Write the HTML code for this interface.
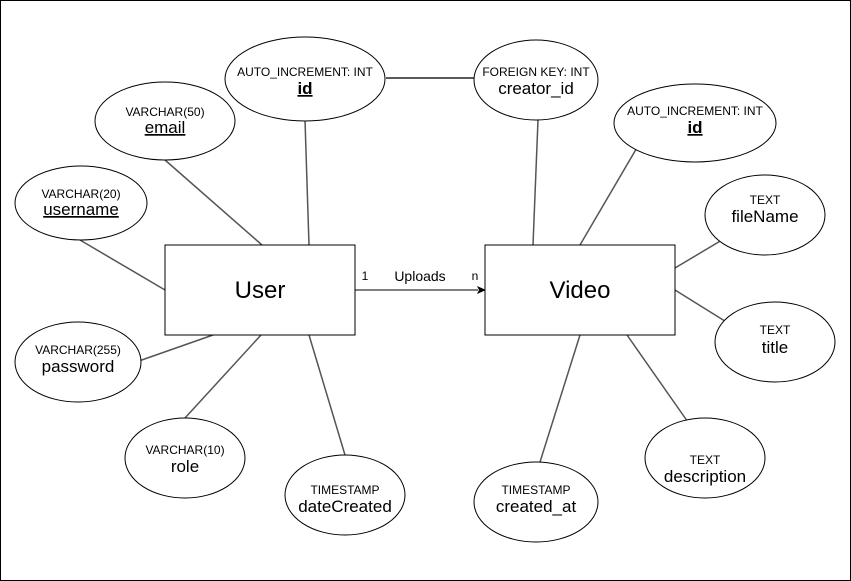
<!DOCTYPE html>
<html><head><meta charset="utf-8"><style>
html,body{margin:0;padding:0;background:#fff}
svg{display:block}
text{font-family:"Liberation Sans",Arial,sans-serif;fill:#000}
</style></head><body>
<svg width="851" height="581" viewBox="0 0 851 581" xmlns="http://www.w3.org/2000/svg">
<rect x="0.5" y="0.5" width="850" height="580" fill="#fff" stroke="#000"/>
<g stroke="#555" stroke-width="1.5" fill="none">
<line x1="305" y1="120" x2="309" y2="245"/>
<line x1="165" y1="160" x2="262" y2="245"/>
<line x1="80" y1="240" x2="165" y2="290"/>
<line x1="136" y1="362" x2="213" y2="335"/>
<line x1="185" y1="418" x2="261" y2="335"/>
<line x1="345" y1="455" x2="309" y2="335"/>
<line x1="386" y1="78" x2="474" y2="78" stroke="#222"/>
<line x1="538" y1="120" x2="533" y2="245"/>
<line x1="638" y1="146" x2="580" y2="245"/>
<line x1="722" y1="240" x2="675" y2="268"/>
<line x1="728" y1="323" x2="675" y2="290"/>
<line x1="690" y1="425" x2="627" y2="335"/>
<line x1="540" y1="462" x2="580" y2="335"/>
</g>
<line x1="355" y1="290" x2="478" y2="290" stroke="#000" stroke-width="1"/>
<polygon points="486,290 477,286 479,290 477,294" fill="#000"/>
<g fill="#fff" stroke="#000" stroke-width="1">
<rect x="165" y="245" width="190" height="90"/>
<rect x="485" y="245" width="190" height="90"/>
<ellipse cx="305" cy="79" rx="80" ry="42"/>
<ellipse cx="536" cy="80" rx="62" ry="40"/>
<ellipse cx="165" cy="121" rx="70" ry="39"/>
<ellipse cx="81" cy="203" rx="66" ry="37"/>
<ellipse cx="695" cy="123" rx="81" ry="39"/>
<ellipse cx="765" cy="215" rx="60" ry="40"/>
<ellipse cx="775" cy="342" rx="60" ry="40"/>
<ellipse cx="705" cy="458" rx="60" ry="40"/>
<ellipse cx="536" cy="502" rx="62" ry="40"/>
<ellipse cx="345" cy="495" rx="60" ry="40"/>
<ellipse cx="185" cy="458" rx="60" ry="40"/>
<ellipse cx="78" cy="362" rx="63" ry="40"/>
</g>
<g text-anchor="middle">
<text x="260" y="298" font-size="24">User</text>
<text x="580" y="298" font-size="24">Video</text>
<text x="420" y="281" font-size="14">Uploads</text>
<text x="365" y="280" font-size="12">1</text>
<text x="475" y="280" font-size="12">n</text>

<text x="305" y="76" font-size="12">AUTO_INCREMENT: INT</text>
<text x="305" y="94" font-size="17" font-weight="bold" text-decoration="underline">id</text>
<text x="536" y="76" font-size="12">FOREIGN KEY: INT</text>
<text x="536" y="94" font-size="17">creator_id</text>
<text x="165" y="116" font-size="12">VARCHAR(50)</text>
<text x="165" y="133" font-size="17" text-decoration="underline">email</text>
<text x="81" y="198" font-size="12">VARCHAR(20)</text>
<text x="81" y="215" font-size="17" text-decoration="underline">username</text>
<text x="695" y="115" font-size="12">AUTO_INCREMENT: INT</text>
<text x="695" y="133" font-size="17" font-weight="bold" text-decoration="underline">id</text>
<text x="765" y="204" font-size="12">TEXT</text>
<text x="765" y="222" font-size="17">fileName</text>
<text x="775" y="334" font-size="12">TEXT</text>
<text x="775" y="353" font-size="17">title</text>
<text x="705" y="464" font-size="12">TEXT</text>
<text x="705" y="482" font-size="17">description</text>
<text x="536" y="494" font-size="12">TIMESTAMP</text>
<text x="536" y="512" font-size="17">created_at</text>
<text x="345" y="494" font-size="12">TIMESTAMP</text>
<text x="345" y="512" font-size="17">dateCreated</text>
<text x="185" y="454" font-size="12">VARCHAR(10)</text>
<text x="185" y="472" font-size="17">role</text>
<text x="78" y="354" font-size="12">VARCHAR(255)</text>
<text x="78" y="372" font-size="17">password</text>
</g>
</svg>
</body></html>
